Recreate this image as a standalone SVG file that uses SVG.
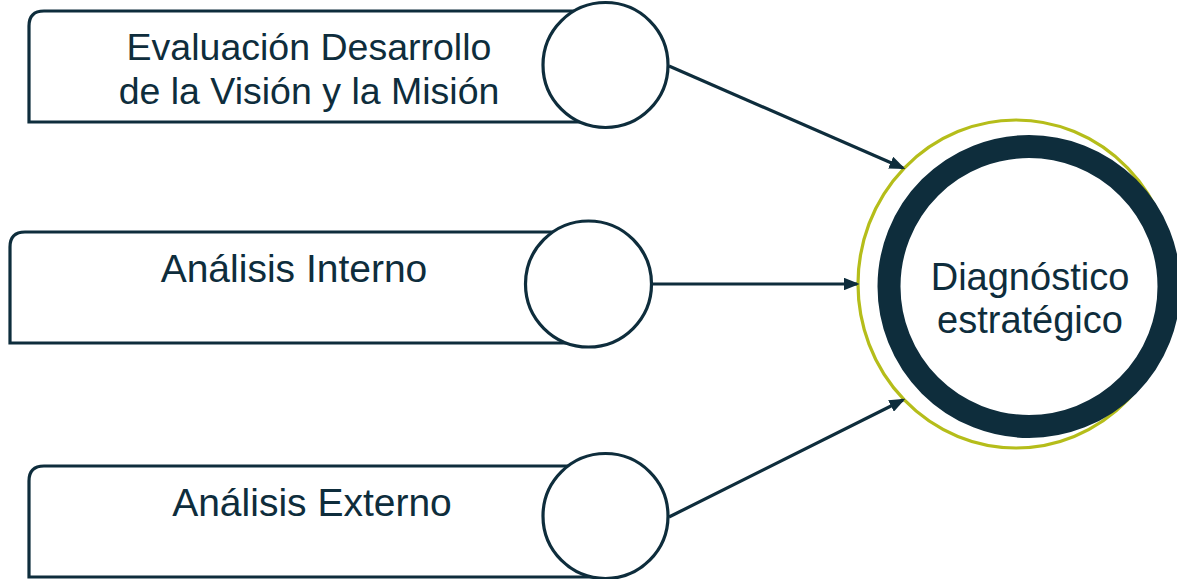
<svg xmlns="http://www.w3.org/2000/svg" width="1177" height="579" viewBox="0 0 1177 579">
<defs>
<style>
.box{fill:#fff;stroke:#0e2d3c;stroke-width:3.2}
.cir{fill:#fff;stroke:#0e2d3c;stroke-width:3.2}
.lbl{font-family:"Liberation Sans",Arial,sans-serif;font-size:37.5px;fill:#0e2d3c;text-anchor:middle}
.big{font-size:39px}
.con{stroke:#0e2d3c;stroke-width:3.2;fill:none;marker-end:url(#ah)}
</style>
<marker id="ah" markerWidth="5" markerHeight="4" refX="4.2" refY="2" orient="auto" markerUnits="strokeWidth">
<path d="M0,0 L5,2 L0,4 Z" fill="#0e2d3c"/>
</marker>
</defs>
<rect width="1177" height="579" fill="#fff"/>
<g id="node-vision">
<path class="box" d="M605,122 H29 V26 Q29,11 44,11 H605"/>
<circle class="cir" cx="605.5" cy="65" r="62.5"/>
<text class="lbl" x="309" y="60">Evaluación Desarrollo</text>
<text class="lbl" x="309" y="104">de la Visión y la Misión</text>
</g>
<g id="node-interno">
<path class="box" d="M588,343 H10 V247 Q10,232 25,232 H588"/>
<circle class="cir" cx="588.5" cy="284" r="63"/>
<text class="lbl big" x="294" y="282">Análisis Interno</text>
</g>
<g id="node-externo">
<path class="box" d="M605,577 H29 V481 Q29,466 44,466 H605"/>
<circle class="cir" cx="605.5" cy="516" r="62.5"/>
<text class="lbl big" x="312" y="516">Análisis Externo</text>
</g>
<g id="node-diagnostico">
<ellipse cx="1016" cy="284" rx="158" ry="164" fill="#fff" stroke="#b5bd1a" stroke-width="3.2"/>
<circle cx="1029" cy="286.5" r="140" fill="#fff" stroke="#0e2d3c" stroke-width="23"/>
<text class="lbl" x="1030" y="290" style="font-size:38px">Diagnóstico</text>
<text class="lbl" x="1030" y="333" style="font-size:38px">estratégico</text>
</g>
<g id="connectors">
<line class="con" x1="669" y1="66" x2="903" y2="168"/>
<line class="con" x1="652" y1="284" x2="857" y2="284"/>
<line class="con" x1="669" y1="517" x2="903" y2="400"/>
</g>
</svg>
